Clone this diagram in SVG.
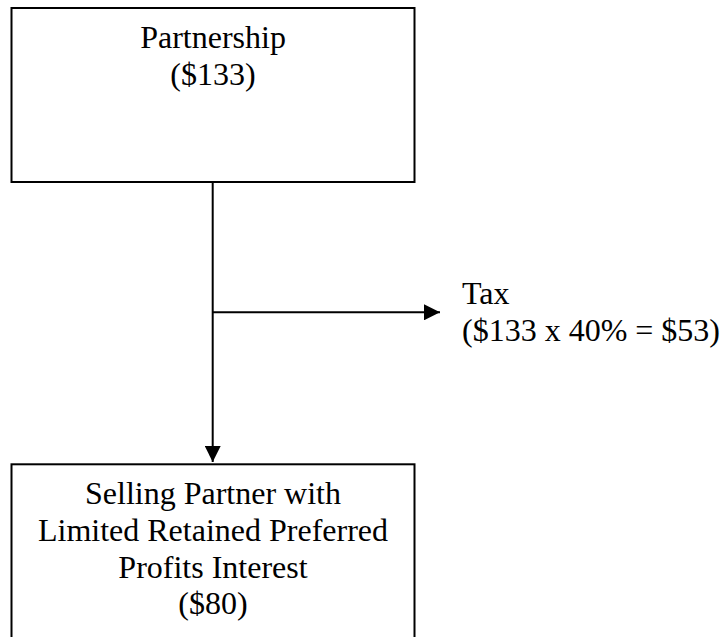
<svg xmlns="http://www.w3.org/2000/svg" width="726" height="637" viewBox="0 0 726 637">
  <style>
    .box { fill: #ffffff; stroke: #000000; stroke-width: 2; }
    .line { fill: none; stroke: #000000; stroke-width: 2; }
    .label { font-family: "Liberation Serif", "Times New Roman", serif; font-size: 32px; fill: #000000; }
    .mid { text-anchor: middle; }
  </style>
  <defs>
    <marker id="arrow" viewBox="0 0 16 16" refX="16" refY="8" markerWidth="16" markerHeight="16" markerUnits="userSpaceOnUse" orient="auto">
      <path d="M0,0 L16,8 L0,16 Z" fill="#000000"/>
    </marker>
  </defs>
  <rect width="726" height="637" fill="#ffffff"/>

  <g id="connectors">
    <line class="line" x1="212.7" y1="182" x2="212.7" y2="462" marker-end="url(#arrow)"/>
    <line class="line" x1="212.7" y1="312.3" x2="440" y2="312.3" marker-end="url(#arrow)"/>
  </g>

  <g id="partnership">
    <rect class="box" x="11.5" y="8" width="403" height="174"/>
    <text class="label mid" x="213" y="48">Partnership</text>
    <text class="label mid" x="213" y="85">($133)</text>
  </g>

  <g id="tax">
    <text class="label" x="462" y="304">Tax</text>
    <text class="label" x="462" y="340.5">($133 x 40% = $53)</text>
  </g>

  <g id="selling-partner">
    <rect class="box" x="11.5" y="464.3" width="403" height="200"/>
    <text class="label mid" x="213" y="504">Selling Partner with</text>
    <text class="label mid" x="213" y="540.8">Limited Retained Preferred</text>
    <text class="label mid" x="213" y="577.5">Profits Interest</text>
    <text class="label mid" x="213" y="614.3">($80)</text>
  </g>
</svg>
